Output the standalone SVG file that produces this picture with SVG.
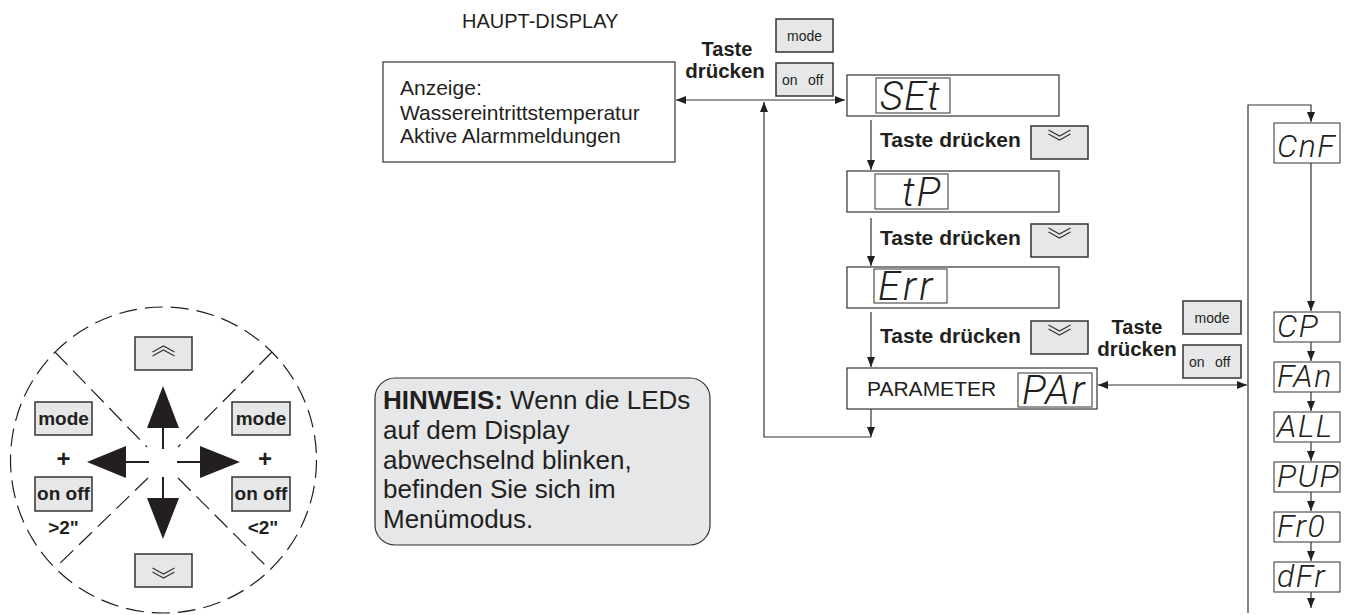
<svg xmlns="http://www.w3.org/2000/svg" xmlns:xlink="http://www.w3.org/1999/xlink" width="1349" height="615" viewBox="0 0 1349 615">
<style>
.box{fill:#fff;stroke:#333;stroke-width:1.2}
.btn{fill:#e6e7e8;stroke:#333;stroke-width:1.5}
.disp{fill:#fff;stroke:#333;stroke-width:1}
.t{font-family:"Liberation Sans",Arial,sans-serif;fill:#231f20}
.b{font-weight:bold}
.s21{font-size:21px}
.small{font-size:14px}
.seg{font-family:Roboto,"DejaVu Sans",sans-serif;font-weight:300;font-style:italic;fill:#231f20}
.ln{fill:none;stroke:#333;stroke-width:1.2}
.chev{fill:none;stroke:#333;stroke-width:1.1}
.dash{fill:none;stroke:#231f20;stroke-width:1.2;stroke-dasharray:18 8}
</style>
<defs>
<marker id="ah" markerWidth="10" markerHeight="8" refX="10" refY="4" orient="auto-start-reverse" markerUnits="userSpaceOnUse">
<path d="M0,0 L10,4 L0,8 Z" fill="#231f20"/>
</marker>
<g id="chevD">
<polyline class="chev" points="-11,0 0,6 11,0"/>
<polyline class="chev" points="-11,4 0,10 11,4"/>
</g>
<g id="chevU">
<polyline class="chev" points="-11,10 0,4 11,10"/>
<polyline class="chev" points="-11,6 0,0 11,6"/>
</g>
</defs>

<text class="t" x="462" y="28" font-size="20">HAUPT-DISPLAY</text>

<g id="main-display">
<rect class="box" x="383" y="62" width="292" height="100"/>
<text class="t s21" x="400" y="95">Anzeige:</text>
<text class="t s21" x="400" y="120">Wassereintrittstemperatur</text>
<text class="t s21" x="400" y="143">Aktive Alarmmeldungen</text>
</g>

<g id="btn-top">
<text class="t b" font-size="20" x="727" y="56" text-anchor="middle">Taste</text>
<text class="t b" font-size="20.5" x="725" y="78" text-anchor="middle">drücken</text>
<rect class="btn" x="776" y="19" width="57" height="33"/>
<text class="t small" x="804.5" y="41" text-anchor="middle">mode</text>
<rect class="btn" x="776" y="63" width="57" height="33"/>
<text class="t small" x="782" y="85">on</text>
<text class="t small" x="808" y="85">off</text>
</g>

<g id="set">
<rect class="box" x="847" y="75" width="212" height="41"/>
<rect class="disp" x="876" y="78" width="74" height="35"/>
<text class="seg" x="880" y="110" font-size="40" letter-spacing="1">SEt</text>
</g>
<g id="key1">
<text class="t b s21" x="880" y="147">Taste drücken</text>
<rect class="btn" x="1031" y="126" width="57" height="33"/>
<use xlink:href="#chevD" x="1059.5" y="130"/>
</g>

<g id="tp">
<rect class="box" x="847" y="171" width="212" height="41"/>
<rect class="disp" x="875" y="174" width="73" height="35"/>
<text class="seg" x="902" y="206" font-size="40" letter-spacing="2">tP</text>
</g>
<g id="key2">
<text class="t b s21" x="880" y="245">Taste drücken</text>
<rect class="btn" x="1031" y="224" width="57" height="33"/>
<use xlink:href="#chevD" x="1059.5" y="228"/>
</g>

<g id="err">
<rect class="box" x="847" y="267" width="212" height="41"/>
<rect class="disp" x="874" y="269" width="73" height="34"/>
<text class="seg" x="878" y="300" font-size="40" letter-spacing="3">Err</text>
</g>
<g id="key3">
<text class="t b s21" x="880" y="343">Taste drücken</text>
<rect class="btn" x="1031" y="321" width="57" height="33"/>
<use xlink:href="#chevD" x="1059.5" y="325"/>
</g>

<g id="btn-right">
<text class="t b" font-size="20" x="1137" y="334" text-anchor="middle">Taste</text>
<text class="t b" font-size="20.5" x="1137" y="356" text-anchor="middle">drücken</text>
<rect class="btn" x="1183" y="301" width="58" height="33"/>
<text class="t small" x="1212" y="323" text-anchor="middle">mode</text>
<rect class="btn" x="1183" y="345" width="58" height="33"/>
<text class="t small" x="1189" y="367">on</text>
<text class="t small" x="1215" y="367">off</text>
</g>

<g id="parameter">
<rect class="box" x="847" y="368" width="250" height="41"/>
<text class="t s21" x="867" y="396">PARAMETER</text>
<rect class="disp" x="1018" y="373" width="74" height="34"/>
<text class="seg" x="1022" y="404" font-size="40" letter-spacing="2">PAr</text>
</g>

<g id="cnf"><rect class="disp" x="1274" y="123" width="66" height="40"/><text class="seg" x="1277" y="157" font-size="32" letter-spacing="1.5">CnF</text></g>
<g id="cp"><rect class="disp" x="1274" y="312" width="66" height="30"/><text class="seg" x="1277" y="337" font-size="32" letter-spacing="1.5">CP</text></g>
<g id="fan"><rect class="disp" x="1274" y="362" width="66" height="30"/><text class="seg" x="1277" y="387" font-size="32" letter-spacing="1.5">FAn</text></g>
<g id="all"><rect class="disp" x="1274" y="412" width="66" height="30"/><text class="seg" x="1277" y="437" font-size="32" letter-spacing="1.5">ALL</text></g>
<g id="pup"><rect class="disp" x="1274" y="462" width="66" height="30"/><text class="seg" x="1277" y="487" font-size="32" letter-spacing="1.5">PUP</text></g>
<g id="fr0"><rect class="disp" x="1274" y="512" width="66" height="30"/><text class="seg" x="1277" y="537" font-size="32" letter-spacing="1.5">Fr0</text></g>
<g id="dfr"><rect class="disp" x="1274" y="562" width="66" height="30"/><text class="seg" x="1277" y="587" font-size="32" letter-spacing="1.5">dFr</text></g>

<g id="connectors">
<path class="ln" d="M676,100 H845" marker-start="url(#ah)" marker-end="url(#ah)"/>
<path class="ln" d="M871,120 V170" marker-end="url(#ah)"/>
<path class="ln" d="M871,218 V266" marker-end="url(#ah)"/>
<path class="ln" d="M871,312 V367" marker-end="url(#ah)"/>
<path class="ln" d="M871,409 V437" marker-end="url(#ah)"/>
<path class="ln" d="M871,437 H764 V102" marker-end="url(#ah)"/>
<path class="ln" d="M1098,385 H1247" marker-start="url(#ah)" marker-end="url(#ah)"/>
<path class="ln" d="M1248,613 V105 H1311 V122" marker-end="url(#ah)"/>
<path class="ln" d="M1311,163 V311" marker-end="url(#ah)"/>
<path class="ln" d="M1311,342 V361" marker-end="url(#ah)"/>
<path class="ln" d="M1311,392 V411" marker-end="url(#ah)"/>
<path class="ln" d="M1311,442 V461" marker-end="url(#ah)"/>
<path class="ln" d="M1311,492 V511" marker-end="url(#ah)"/>
<path class="ln" d="M1311,542 V561" marker-end="url(#ah)"/>
<path class="ln" d="M1311,592 V608" marker-end="url(#ah)"/>
</g>

<g id="note">
<rect x="375" y="378" width="335" height="167" rx="20" fill="#e6e7e8" stroke="#333" stroke-width="1.2"/>
<text class="t" x="383" y="409" font-size="26"><tspan font-weight="bold">HINWEIS:</tspan> Wenn die LEDs</text>
<text class="t" x="383" y="439" font-size="26">auf dem Display</text>
<text class="t" x="383" y="469" font-size="26">abwechselnd blinken,</text>
<text class="t" x="383" y="498" font-size="26">befinden Sie sich im</text>
<text class="t" x="383" y="528" font-size="26">Menümodus.</text>
</g>

<g id="key-legend">
<circle class="dash" cx="163.5" cy="460" r="153" stroke-dasharray="20 8"/>
<path class="dash" d="M55,352 L147,447 M272,352 L178,447 M148,478 L55,568 M178,478 L270,570" stroke-dasharray="15 8"/>
<rect class="btn" x="135" y="337" width="57" height="33"/>
<use xlink:href="#chevU" x="163.5" y="346"/>
<rect class="btn" x="135" y="554" width="57" height="33"/>
<use xlink:href="#chevD" x="163.5" y="568"/>
<rect class="btn" x="35" y="402" width="57" height="33"/>
<text class="t b" x="63.5" y="425" font-size="19" text-anchor="middle">mode</text>
<text class="t b" x="63.5" y="467" font-size="24" text-anchor="middle">+</text>
<rect class="btn" x="35" y="477" width="57" height="34"/>
<text class="t b" x="63.5" y="500" font-size="19" text-anchor="middle">on off</text>
<text class="t b" x="63.5" y="534" font-size="19" text-anchor="middle">&gt;2"</text>
<rect class="btn" x="232" y="402" width="58" height="33"/>
<text class="t b" x="261" y="425" font-size="19" text-anchor="middle">mode</text>
<text class="t b" x="265" y="467" font-size="24" text-anchor="middle">+</text>
<rect class="btn" x="232" y="477" width="58" height="34"/>
<text class="t b" x="261" y="500" font-size="19" text-anchor="middle">on off</text>
<text class="t b" x="263" y="534" font-size="19" text-anchor="middle">&lt;2"</text>
<g fill="#231f20" stroke="#231f20" stroke-width="2">
<line x1="163" y1="428" x2="163" y2="449"/>
<polygon points="163,386 147,428 179,428" stroke="none"/>
<line x1="163" y1="477" x2="163" y2="498"/>
<polygon points="163,539 147,498 179,498" stroke="none"/>
<line x1="126" y1="462" x2="149" y2="462"/>
<polygon points="87,462 126,446 126,478" stroke="none"/>
<line x1="177" y1="462" x2="200" y2="462"/>
<polygon points="240,462 200,446 200,478" stroke="none"/>
</g>
</g>
</svg>
